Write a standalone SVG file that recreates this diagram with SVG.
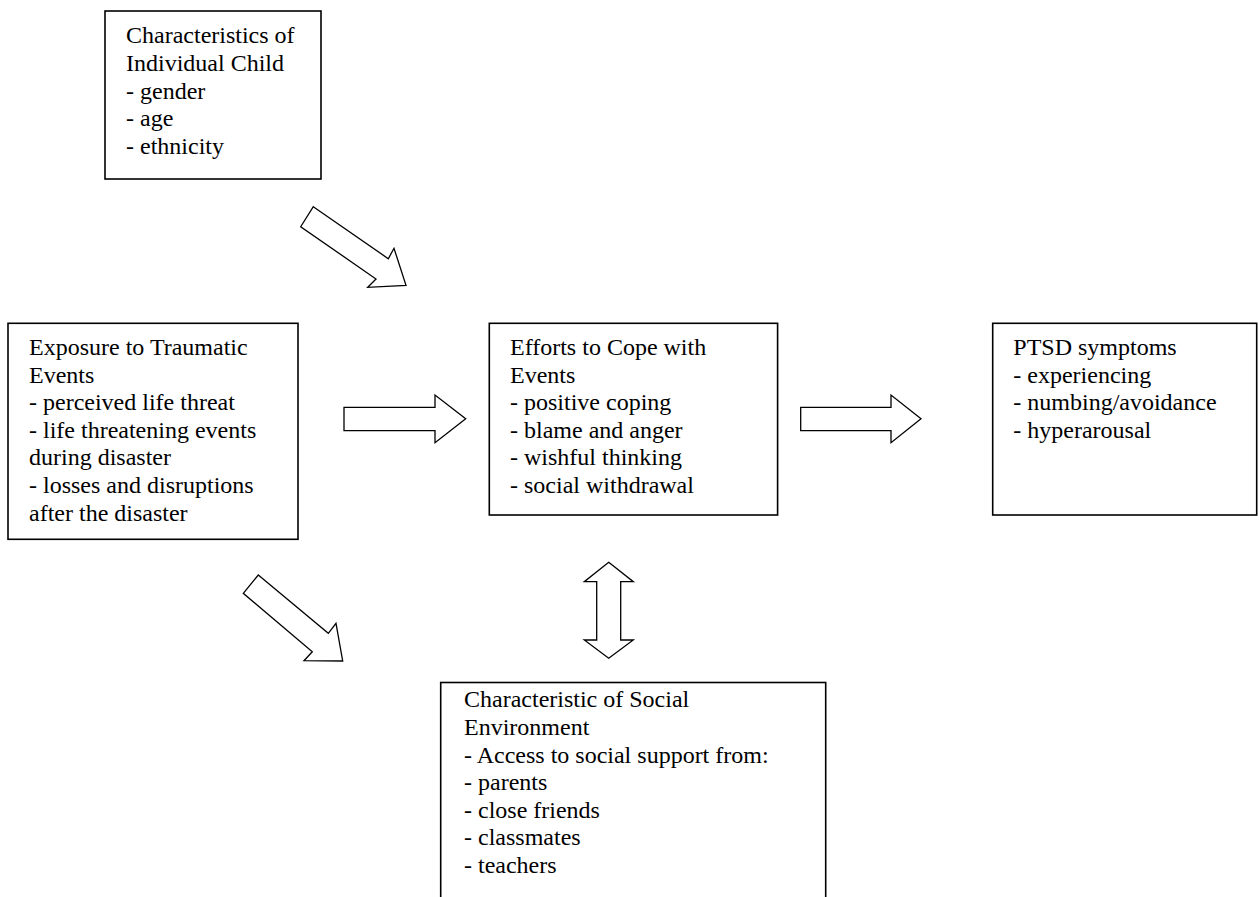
<svg xmlns="http://www.w3.org/2000/svg" width="1259" height="897" viewBox="0 0 1259 897">
<style>
.box{fill:#fff;stroke:#000;stroke-width:1.6}
.arr{fill:#fff;stroke:#000;stroke-width:1.3;stroke-linejoin:miter}
text{font-family:"Liberation Serif","Times New Roman",serif;font-size:24px;fill:#000}
</style>
<rect width="1259" height="897" fill="#fff"/>
<g id="node-individual">
<rect class="box" x="105" y="11" width="216" height="168"/>
<text x="126" y="43.3">Characteristics of</text>
<text x="126" y="70.9">Individual Child</text>
<text x="126" y="98.5">- gender</text>
<text x="126" y="126.1">- age</text>
<text x="126" y="153.7">- ethnicity</text>
</g>
<g id="node-exposure">
<rect class="box" x="8" y="323.3" width="290" height="216"/>
<text x="29" y="355">Exposure to Traumatic</text>
<text x="29" y="382.6">Events</text>
<text x="29" y="410.2">- perceived life threat</text>
<text x="29" y="437.8">- life threatening events</text>
<text x="29" y="465.4">during disaster</text>
<text x="29" y="493">- losses and disruptions</text>
<text x="29" y="520.6">after the disaster</text>
</g>
<g id="node-coping">
<rect class="box" x="489.3" y="323.3" width="288.3" height="191.7"/>
<text x="510" y="355">Efforts to Cope with</text>
<text x="510" y="382.6">Events</text>
<text x="510" y="410.2">- positive coping</text>
<text x="510" y="437.8">- blame and anger</text>
<text x="510" y="465.4">- wishful thinking</text>
<text x="510" y="493">- social withdrawal</text>
</g>
<g id="node-ptsd">
<rect class="box" x="992.7" y="323.3" width="264" height="191.7"/>
<text x="1013.3" y="355">PTSD symptoms</text>
<text x="1013.3" y="382.6">- experiencing</text>
<text x="1013.3" y="410.2">- numbing/avoidance</text>
<text x="1013.3" y="437.8">- hyperarousal</text>
</g>
<g id="node-social">
<rect class="box" x="440.7" y="682.5" width="385" height="240"/>
<text x="464" y="707.3">Characteristic of Social</text>
<text x="464" y="734.9">Environment</text>
<text x="464" y="762.5">- Access to social support from:</text>
<text x="464" y="790.1">- parents</text>
<text x="464" y="817.7">- close friends</text>
<text x="464" y="845.3">- classmates</text>
<text x="464" y="872.9">- teachers</text>
</g>
<g id="connectors">
<polygon class="arr" points="313.3,206.7 388.3,258.7 394,248.3 406,285.3 367.7,287.3 376,279 300.7,226.7"/>
<polygon class="arr" points="344,407.3 435,407.3 435,395 465.7,418.7 435,442.7 435,430.7 344,430.7"/>
<polygon class="arr" points="800.7,407.3 891,407.3 891,395 921,418.7 891,442.7 891,430.7 800.7,430.7"/>
<polygon class="arr" points="258.3,575 328.3,633.3 336,623.3 342.7,661 304,660.7 312.3,651.7 243.3,593.3"/>
<polygon class="arr" points="608.7,562.3 633.3,581.7 620.7,581.7 620.7,640 633.3,640 608.7,658.3 584.3,640 596.7,640 596.7,581.7 584.3,581.7"/>
</g>
</svg>
